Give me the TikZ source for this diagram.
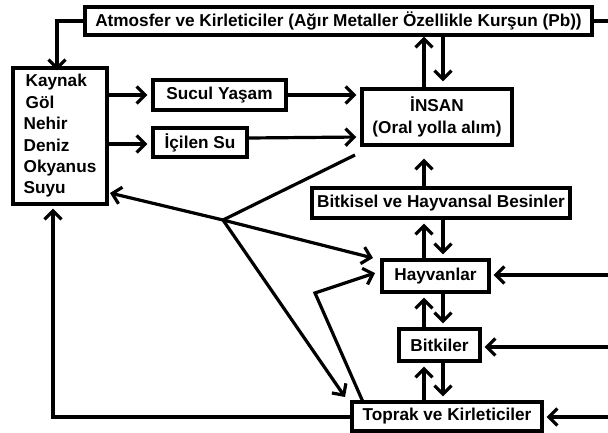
\documentclass[tikz,border=0pt]{standalone}
\usepackage{fontspec}
\setmainfont{Liberation Sans}
\usetikzlibrary{arrows.meta}
\begin{document}
\begin{tikzpicture}[x=1pt,y=-1pt,
  box/.style={draw=black,line width=3.4pt,fill=white,inner sep=0pt,
    font=\fontsize{17.2}{21.4}\selectfont\bfseries,align=center},
  arr/.style={line width=3.2pt,-{Straight Barb[length=8.5pt,width=17pt]}},
  ln/.style={line width=3.2pt},
]
\useasboundingbox (0,0) rectangle (608,432);
\fill[white] (0,0) rectangle (608,432);

% boxes
\node[box,minimum width=507pt,minimum height=28pt] (atm) at (338.5,21) {Atmosfer ve Kirleticiler (Ağır Metaller Özellikle Kurşun (Pb))};
\node[box,minimum width=94pt,minimum height=136pt,align=left] (kay) at (60,136)
  {\hspace*{2pt}Kaynak\\\hspace*{2pt}Göl\\Nehir\\Deniz\\Okyanus\\Suyu};
\node[box,minimum width=133pt,minimum height=30pt] (suc) at (219.5,95) {Sucul Yaşam};
\node[box,minimum width=94pt,minimum height=29pt] (ici) at (200,142.5) {İçilen Su};
\node[box,minimum width=150pt,minimum height=56pt] (ins) at (437,117) {İNSAN\\(Oral yolla alım)};
\node[box,minimum width=258pt,minimum height=30pt] (bit) at (441,203) {Bitkisel ve Hayvansal Besinler};
\node[box,minimum width=107pt,minimum height=32pt] (hay) at (435.5,276) {Hayvanlar};
\node[box,minimum width=81pt,minimum height=32pt] (btk) at (439.5,345) {Bitkiler};
\node[box,minimum width=190pt,minimum height=29pt] (top) at (447,416.5) {Toprak ve Kirleticiler};

% helper coordinates
\coordinate (xu) at (424,0);
\coordinate (xd) at (443,0);
\coordinate (redge1) at (608,21);
\coordinate (redge2) at (608,275);
\coordinate (redge3) at (608,347);
\coordinate (redge4) at (608,417);
\coordinate (hub) at (223,220);
\coordinate (insfoot) at (355,155);
\coordinate (kaytip) at (110,193);
\coordinate (haytip1) at (373,258);
\coordinate (haytip2) at (375,273);
\coordinate (toptip) at (345,397);
\coordinate (toptop) at (363,402);
\coordinate (bend) at (315,293);
\coordinate (lx) at (53,0);
\coordinate (ax) at (57,0);

% top box connections
\draw[ln] (atm.east) -- (redge1);
\draw[arr] (atm.west) -- (atm.west -| ax) -- ([yshift=-4pt]kay.north -| ax);

% left column to human
\draw[arr,shorten >=4pt] (kay.east |- suc.west) -- (suc.west);
\draw[arr,shorten >=4pt] (suc.east) -- (ins.west |- suc.east);
\draw[arr,shorten >=4pt] (kay.east |- 0,144) -- (ici.west |- 0,144);
\draw[arr,shorten >=4pt] (ici.east |- 0,138) -- (ins.west |- 0,137);

% vertical pairs
\draw[arr] (ins.north -| xu) -- (atm.south -| xu);
\draw[arr,shorten >=6pt] (atm.south -| xd) -- (ins.north -| xd);
\draw[arr,shorten >=12pt] (bit.north -| xu) -- (ins.south -| xu);
\draw[arr,shorten >=4pt] (hay.north -| xu) -- (bit.south -| xu);
\draw[arr,shorten >=4pt] (bit.south -| xd) -- (hay.north -| xd);
\draw[arr,shorten >=4pt] (btk.north -| xu) -- (hay.south -| xu);
\draw[arr,shorten >=4pt] (hay.south -| xd) -- (btk.north -| xd);
\draw[arr,shorten >=4pt] (top.north -| xu) -- (btk.south -| xu);
\draw[arr,shorten >=4pt] (btk.south -| xd) -- (top.north -| xd);

% right inputs
\draw[arr,shorten >=3pt] (redge2) -- (hay.east |- redge2);
\draw[arr,shorten >=3pt] (redge3) -- (btk.east |- redge3);
\draw[arr,shorten >=3pt] (redge4) -- (top.east |- redge4);

% hub lines
\draw[ln] (insfoot) -- (hub);
\draw[arr] (hub) -- (kaytip);
\draw[arr] (hub) -- (haytip1);
\draw[arr] (hub) -- (toptip);
\draw[arr] (toptop) -- (bend) -- (haytip2);

% soil to water source
\draw[arr,shorten >=3pt] (top.west |- redge4) -- (lx |- redge4) -- (kay.south -| lx);
\end{tikzpicture}
\end{document}
